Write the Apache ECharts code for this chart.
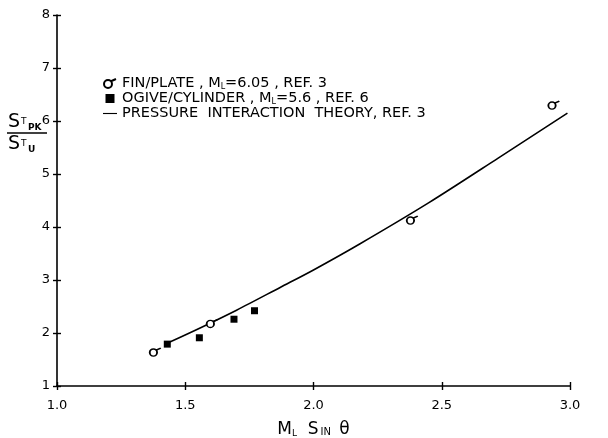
<!DOCTYPE html>
<html><head><meta charset="utf-8">
<script src="https://cdn.jsdelivr.net/npm/echarts@6/dist/echarts.min.js"></script>
<style>html,body{margin:0;padding:0;background:#fff}#c{width:608px;height:438px}</style>
</head><body><div id="c"></div>
<script>
// ---- data ----
const finX = [1.383, 1.605, 2.385, 2.937];
const finY = [1.64, 2.18, 4.13, 6.30];
const ogiveX = [1.43, 1.555, 1.69, 1.77];
const ogiveY = [1.79, 1.91, 2.26, 2.42];
const theoryX = [1.44, 1.56, 1.70, 1.87, 2.0, 2.18, 2.45, 2.72, 2.99];
const theoryY = [1.83, 2.10, 2.43, 2.86, 3.19, 3.68, 4.46, 5.30, 6.15];
const xMin = 1.0, xMax = 3.0, xStep = 0.5;
const yMin = 1, yMax = 8, yStep = 1;
const seriesNames = ['FIN/PLATE', 'OGIVE/CYLINDER', 'PRESSURE INTERACTION THEORY'];
const legendLabels = [
  'FIN/PLATE , M{sub|L}=6.05 , REF. 3',
  'OGIVE/CYLINDER , M{sub|L}=5.6 , REF. 6',
  'PRESSURE  INTERACTION  THEORY, REF. 3'
];

const FONT = 'DejaVu Sans';
const finSymbol = 'path://M1.5,6 A3.5,3.5 0 1 0 8.5,6 A3.5,3.5 0 1 0 1.5,6 Z M7.6,3.6 L12,1.6';
const lineIcon = 'path://M0,0 L20,0 L20,1.6 L0,1.6 Z';
const squareIcon = 'path://M0,0 L7,0 L7,7 L0,7 Z';

const zip = (a, b) => a.map((v, i) => [v, b[i]]);

const chart = echarts.init(document.getElementById('c'), null, {renderer: 'canvas'});
const axisCommon = {
  axisLine: {show: true, lineStyle: {color: '#000', width: 1.6}},
  splitLine: {show: false}
};
chart.setOption({
  animation: false,
  backgroundColor: '#fff',
  grid: {left: 57, right: 38, top: 15, bottom: 52, containLabel: false, outerBoundsMode: 'none'},
  xAxis: [
    Object.assign({}, axisCommon, {
      type: 'value', min: xMin, max: xMax, interval: xStep,
      axisTick: {show: true, length: 4, lineStyle: {color: '#000', width: 1.4}},
      axisLabel: {color: '#000', fontFamily: FONT, fontSize: 13, margin: 13,
        formatter: v => v.toFixed(1)},
      name: 'M{sub|L}  S{sc|IN} θ',
      nameLocation: 'middle', nameGap: 35,
      nameTextStyle: {color: '#000', fontFamily: FONT, fontSize: 17,
        rich: {sub: {fontSize: 9, fontFamily: FONT, color: '#000', verticalAlign: 'bottom'},
               sc: {fontSize: 10, fontFamily: FONT, color: '#000', verticalAlign: 'bottom', padding: [0, 3, 1, 2]}}}
    }),
    {type: 'value', min: xMin, max: xMax, interval: xStep, position: 'bottom',
     axisLine: {show: false}, axisLabel: {show: false}, splitLine: {show: false},
     axisTick: {show: true, inside: true, length: 4, lineStyle: {color: '#000', width: 1.4}}}
  ],
  yAxis: [
    Object.assign({}, axisCommon, {
      type: 'value', min: yMin, max: yMax, interval: yStep,
      axisTick: {show: true, length: 4, lineStyle: {color: '#000', width: 1.4}},
      axisLabel: {color: '#000', fontFamily: FONT, fontSize: 13, margin: 7}
    }),
    {type: 'value', min: yMin, max: yMax, interval: yStep, position: 'left',
     axisLine: {show: false}, axisLabel: {show: false}, splitLine: {show: false},
     axisTick: {show: true, inside: true, length: 4, lineStyle: {color: '#000', width: 1.4}}}
  ],
  legend: {
    orient: 'vertical', left: 98, top: 71, itemGap: 0,
    itemWidth: 14, itemHeight: 9,
    data: [
      {name: seriesNames[0]},
      {name: seriesNames[1], icon: squareIcon},
      {name: seriesNames[2], icon: lineIcon}
    ],
    formatter: name => legendLabels[seriesNames.indexOf(name)],
    textStyle: {color: '#000', fontFamily: FONT, fontSize: 14.5, lineHeight: 15,
      rich: {sub: {fontSize: 8, fontFamily: FONT, color: '#000', verticalAlign: 'bottom'}}}
  },
  series: [
    {name: seriesNames[2], type: 'line', data: zip(theoryX, theoryY), smooth: 0.3,
     symbol: 'none', z: 2, lineStyle: {color: '#000', width: 1.6}, itemStyle: {color: '#000'}},
    {name: seriesNames[0], type: 'scatter', data: zip(finX, finY), symbol: finSymbol,
     symbolSize: [11, 8], z: 4,
     itemStyle: {color: '#fff', borderColor: '#000', borderWidth: 1.6, opacity: 1}},
    {name: seriesNames[1], type: 'scatter', data: zip(ogiveX, ogiveY), symbol: 'rect',
     symbolSize: 7, z: 4, itemStyle: {color: '#000', opacity: 1}}
  ],
  graphic: [
    {type: 'text', left: 8, top: 113, style: {text: 'S', font: '19px ' + FONT, fill: '#000'}},
    {type: 'text', left: 21, top: 117, style: {text: 'T', font: '9px ' + FONT, fill: '#000'}},
    {type: 'text', left: 28, top: 123, style: {text: 'PK', font: 'bold 9px ' + FONT, fill: '#000'}},
    {type: 'line', shape: {x1: 7, y1: 133, x2: 47, y2: 133}, style: {stroke: '#000', lineWidth: 1.4}},
    {type: 'text', left: 8, top: 135, style: {text: 'S', font: '19px ' + FONT, fill: '#000'}},
    {type: 'text', left: 21, top: 139, style: {text: 'T', font: '9px ' + FONT, fill: '#000'}},
    {type: 'text', left: 28, top: 145, style: {text: 'U', font: 'bold 9px ' + FONT, fill: '#000'}}
  ]
});
</script>
</body></html>
